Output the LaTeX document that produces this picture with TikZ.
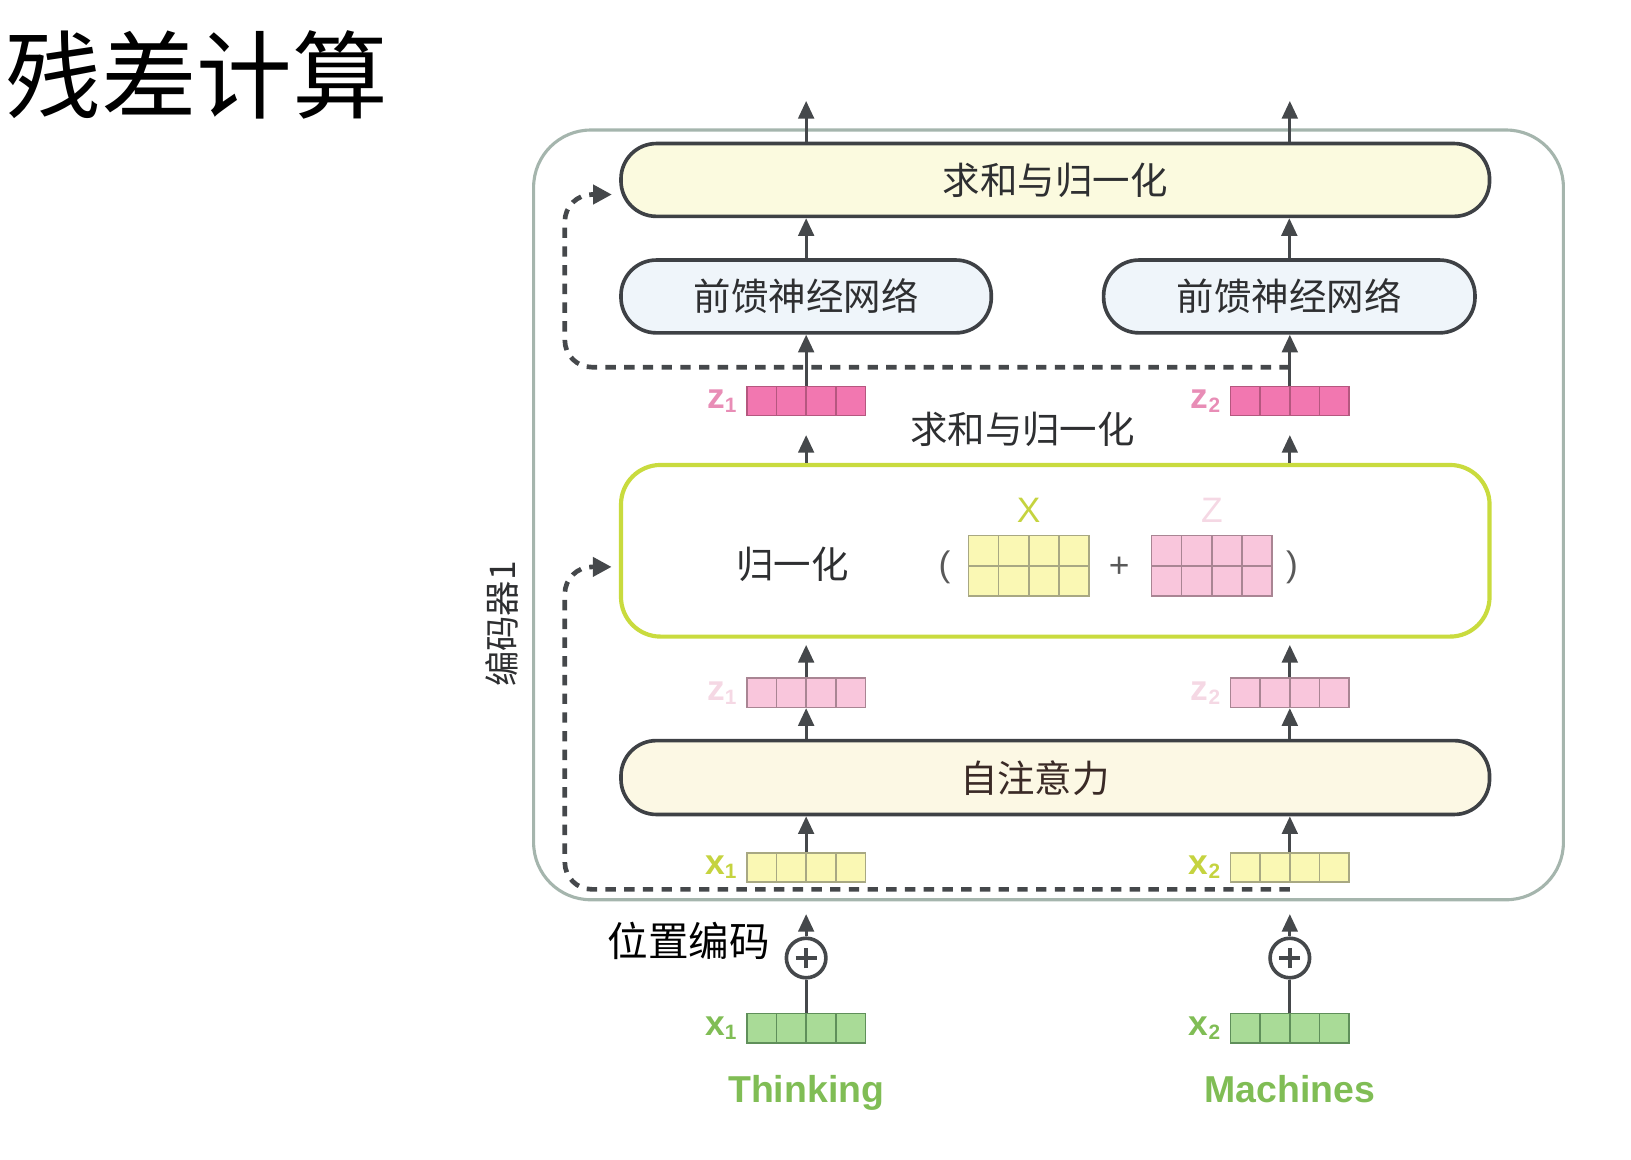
\documentclass[tikz,border=0pt]{standalone}
\usepackage{fontspec}
\setsansfont{Liberation Sans}
\newfontfamily\cjk{Noto Sans CJK SC}
\usetikzlibrary{positioning,arrows.meta}
\definecolor{boxline}{HTML}{3E4145}
\definecolor{arrgray}{HTML}{45484B}
\definecolor{txtgray}{HTML}{2E2F31}
\definecolor{sabrown}{HTML}{3A2A26}
\definecolor{encgray}{HTML}{A5B5AD}
\definecolor{lngreen}{HTML}{C9DB3E}
\definecolor{sumfill}{HTML}{FBFADF}
\definecolor{safill}{HTML}{FCF8E4}
\definecolor{ffnfill}{HTML}{EFF5FA}
\definecolor{pnkdark}{HTML}{F277B0}
\definecolor{pnkdline}{HTML}{B5577F}
\definecolor{pnkdlab}{HTML}{E88DB6}
\definecolor{pnklight}{HTML}{F9C6DC}
\definecolor{pnkline}{HTML}{A98593}
\definecolor{pnklab}{HTML}{F5D8E4}
\definecolor{yelfill}{HTML}{FAF8B4}
\definecolor{yelline}{HTML}{A8A883}
\definecolor{yellab}{HTML}{C5D33F}
\definecolor{grnfill}{HTML}{A9DB97}
\definecolor{grnline}{HTML}{5F8F5A}
\definecolor{grnlab}{HTML}{80BD55}
\newcommand\veclab[2]{#1\raisebox{-4pt}{\fontsize{20}{20}\selectfont #2}}

\begin{document}
\begin{tikzpicture}[x=1pt,y=-1pt,
    every node/.style={font=\cjk\fontsize{36}{40}\selectfont, text=txtgray},
    pill/.style={draw=boxline, line width=3.5pt, rounded corners=34pt, minimum height=70pt, inner sep=0pt},
    arr/.style={arrgray, line width=3pt, -{Triangle[length=17pt,width=15pt]}},
    res/.style={arrgray, line width=4.5pt, dash pattern=on 10pt off 8pt, rounded corners=26pt,
      -{Triangle[length=18pt,width=18pt]}, shorten >=7pt},
    cells/.style 2 args={draw=#2, fill=#1, line width=1.5pt, minimum width=114pt, minimum height=28pt, inner sep=0pt,
      path picture={\foreach \i in {1,2,3}
        \draw[#2, line width=1.5pt] ([xshift=\i*28.5pt]path picture bounding box.south west)
          -- ([xshift=\i*28.5pt]path picture bounding box.north west);}},
    mtx/.style 2 args={draw=#2, fill=#1, line width=1.5pt, minimum width=116pt, minimum height=58pt, inner sep=0pt,
      path picture={\foreach \i in {1,2,3}
        \draw[#2, line width=1.5pt] ([xshift=\i*29pt]path picture bounding box.south west)
          -- ([xshift=\i*29pt]path picture bounding box.north west);
        \draw[#2, line width=1.5pt] (path picture bounding box.west) -- (path picture bounding box.east);}},
    addc/.style={circle, draw=arrgray, line width=3.5pt, minimum size=38pt, inner sep=0pt,
      path picture={\draw[arrgray, line width=3.5pt]
        ([xshift=-10pt]path picture bounding box.center) -- ([xshift=10pt]path picture bounding box.center)
        ([yshift=-10pt]path picture bounding box.center) -- ([yshift=10pt]path picture bounding box.center);}},
    lab/.style={font=\sffamily\bfseries\fontsize{34}{34}\selectfont, inner sep=0pt},
    sym/.style={font=\sffamily\fontsize{34}{36}\selectfont, text=black!65},
  ]
  \useasboundingbox (0,0) rectangle (1568,1115);
  \node[font=\cjk\fontsize{92}{96}\selectfont, text=black, anchor=west, inner sep=0pt] (title) at (5,72) {残差计算};

  \node[draw=encgray, line width=3pt, rounded corners=55pt, minimum width=990pt, minimum height=740pt, inner sep=0pt] (enc) at (1008,495) {};
  \node[rotate=90, font=\cjk\fontsize{34}{36}\selectfont] (enclab) at (483,600) {编码器1};

  \node[pill, fill=sumfill, minimum width=835pt] (sumtop) at (1014.5,173) {求和与归一化};
  \node[pill, fill=ffnfill, minimum width=356pt] (ffn1) at (775,285) {前馈神经网络};
  \node[pill, fill=ffnfill, minimum width=357pt] (ffn2) at (1239.5,285) {前馈神经网络};
  \node (sumlab) at (983,413) {求和与归一化};
  \node[draw=lngreen, line width=4pt, rounded corners=38pt, minimum width=835pt, minimum height=165pt, inner sep=0pt] (ln) at (1014.5,529.5) {};
  \node (lnlab) at (762,543) {归一化};
  \node[sym] (lpar) at (908,545) {(};
  \node[mtx={yelfill}{yelline}] (mx) at (989,544) {};
  \node[sym] (plus) at (1076,545) {+};
  \node[mtx={pnklight}{pnkline}] (mz) at (1165,544) {};
  \node[sym] (rpar) at (1242,545) {)};
  \node[lab, font=\sffamily\fontsize{34}{34}\selectfont, text=yellab] (mxlab) at (989,491) {X};
  \node[lab, font=\sffamily\fontsize{34}{34}\selectfont, text=pnklab] (mzlab) at (1165,491) {Z};
  \node[pill, fill=safill, minimum width=835pt, minimum height=71pt] (sa) at (1014.5,747.5) {};
  \node[text=sabrown] (salab) at (995,748) {自注意力};
  \node[font=\cjk\fontsize{39}{42}\selectfont, text=black] (pelab) at (662,905) {位置编码};

  \foreach \c/\x/\w in {1/775/Thinking, 2/1240/Machines} {
    \coordinate (out\c) at (\x,97);
    \node[cells={pnkdark}{pnkdline}] (zt\c) at (\x,385.5) {};
    \node[lab, text=pnkdlab, left=9pt of zt\c] (ztl\c) {\veclab{z}{\c}};
    \node[cells={pnklight}{pnkline}] (zl\c) at (\x,666) {};
    \node[lab, text=pnklab, left=9pt of zl\c] (zll\c) {\veclab{z}{\c}};
    \node[cells={yelfill}{yelline}] (xy\c) at (\x,834) {};
    \node[lab, text=yellab, left=9pt of xy\c] (xyl\c) {\veclab{x}{\c}};
    \node[addc] (pe\c) at (\x,921) {};
    \node[cells={grnfill}{grnline}] (xg\c) at (\x,988.5) {};
    \node[lab, text=grnlab, left=9pt of xg\c] (xgl\c) {\veclab{x}{\c}};
    \node[font=\sffamily\bfseries\fontsize{36}{40}\selectfont, text=grnlab, anchor=base] (word\c) at (\x,1060) {\w};
  }

  \coordinate (restop) at (1240,353);
  \coordinate (resbot) at (1240,855);
  \draw[res] (restop) -- (543,353) -- (543,187) -- ([yshift=-14pt]sumtop.west);
  \draw[res] (resbot) -- (543,855) -- (543,545) -- ([yshift=-15.5pt]ln.west);

  \foreach \c in {1,2} {
    \draw[arr] (sumtop.north -| zt\c) -- (out\c);
    \draw[arr] (ffn\c.north) -- (ffn\c.north |- sumtop.south);
    \draw[arr] (zt\c.north) -- (zt\c.north |- ffn\c.south);
    \draw[arr, shorten >=18pt] (ln.north -| zt\c) -- (zt\c.south);
    \draw[arr, shorten >=6pt] (zl\c.north) -- (zl\c.north |- ln.south);
    \draw[arr] (sa.north -| zl\c) -- (zl\c.south);
    \draw[arr] (xy\c.north) -- (xy\c.north |- sa.south);
    \draw[arr, shorten >=30pt] (pe\c.north) -- (xy\c.south);
    \draw[arrgray, line width=3pt] (xg\c.north) -- (pe\c.south);
  }
\end{tikzpicture}
\end{document}
